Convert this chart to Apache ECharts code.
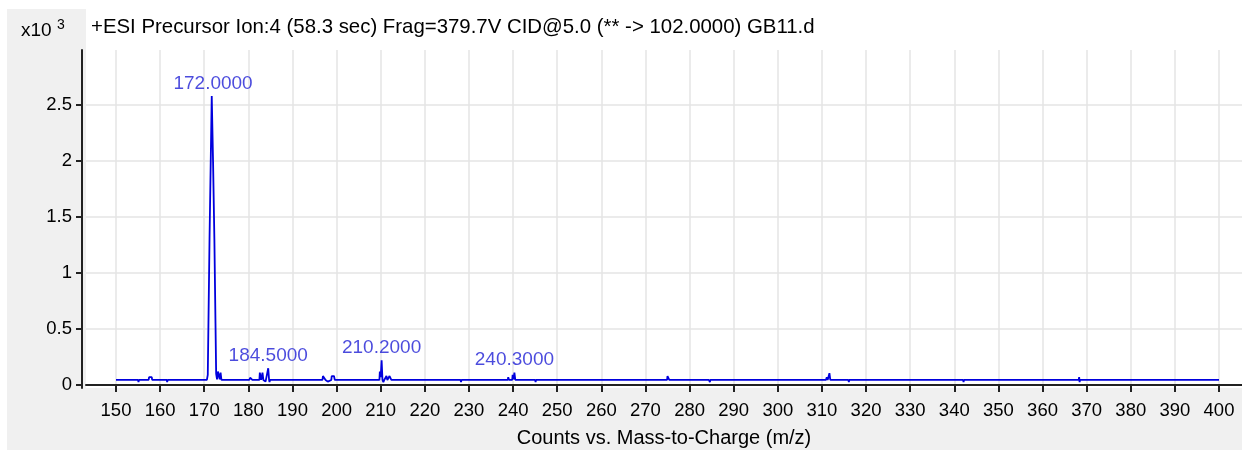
<!DOCTYPE html>
<html>
<head>
<meta charset="utf-8">
<title>GB11.d spectrum</title>
<script src="https://cdn.jsdelivr.net/npm/echarts@6/dist/echarts.min.js"></script>
<style>
  html, body { margin: 0; padding: 0; background: #fff; }
  #chart { width: 1242px; height: 450px; }
</style>
</head>
<body>
<div id="chart"></div>
<script>
// spectrum trace, m/z and counts (x10^3)
const mz = [
  150.0, 155.0, 155.1, 155.2, 157.4, 157.5, 157.8, 158.1, 158.2, 161.5, 161.6, 161.7,
  170.6, 170.8, 171.0, 171.1, 171.2, 171.7, 172.0, 172.3, 172.55, 172.7, 172.9, 173.1,
  173.3, 173.5, 173.7, 173.9, 180.2, 180.4, 180.7, 180.9, 182.5, 182.6, 182.9, 183.2,
  183.4, 183.9, 184.1, 184.5, 184.7, 184.8, 184.9, 196.8, 196.9, 197.3, 197.5, 198.0,
  198.3, 198.8, 198.9, 199.4, 199.6, 209.7, 209.8, 210.0, 210.2, 210.4, 210.6, 210.8,
  211.2, 211.3, 211.5, 211.9, 212.0, 212.3, 212.4, 224.9, 225.0, 225.2, 228.1, 228.2,
  228.3, 238.8, 238.9, 239.1, 239.8, 239.9, 240.1, 240.3, 240.5, 245.0, 245.1, 245.2,
  274.9, 275.0, 275.3, 275.4, 284.4, 284.5, 284.6, 284.7, 310.9, 311.1, 311.3, 311.7,
  311.9, 316.0, 316.1, 316.2, 342.0, 342.1, 342.2, 368.2, 368.3, 368.4, 368.5, 400.0
];
const counts = [
  0.045, 0.045, 0.025, 0.045, 0.045, 0.07, 0.065, 0.07, 0.045, 0.045, 0.025, 0.045,
  0.045, 0.09, 0.09, 0.1, 1.31, 2.58, 1.99, 1.3, 0.55, 0.1, 0.05, 0.12,
  0.12, 0.05, 0.11, 0.045, 0.045, 0.065, 0.06, 0.045, 0.045, 0.11, 0.045, 0.11,
  0.045, 0.03, 0.045, 0.15, 0.045, 0.025, 0.045, 0.045, 0.08, 0.08, 0.045, 0.03,
  0.045, 0.045, 0.08, 0.08, 0.045, 0.045, 0.12, 0.07, 0.22, 0.045, 0.025, 0.045,
  0.045, 0.08, 0.045, 0.045, 0.08, 0.08, 0.045, 0.045, 0.06, 0.045, 0.045, 0.025,
  0.045, 0.045, 0.07, 0.045, 0.045, 0.09, 0.05, 0.11, 0.045, 0.045, 0.025, 0.045,
  0.045, 0.08, 0.07, 0.045, 0.045, 0.06, 0.025, 0.045, 0.045, 0.07, 0.045, 0.105,
  0.045, 0.045, 0.025, 0.045, 0.045, 0.025, 0.045, 0.045, 0.07, 0.025, 0.045, 0.045
];

// labelled peaks
const peakMz = [172.0, 184.5, 210.2, 240.3];
const peakHeight = [2.58, 0.15, 0.22, 0.11];

const xTicks = [150, 160, 170, 180, 190, 200, 210, 220, 230, 240, 250, 260, 270,
  280, 290, 300, 310, 320, 330, 340, 350, 360, 370, 380, 390, 400];
const yTicks = [0, 0.5, 1, 1.5, 2, 2.5];

const titleText = '+ESI Precursor Ion:4 (58.3 sec) Frag=379.7V CID@5.0 (** -> 102.0000) GB11.d';
const xTitle = 'Counts vs. Mass-to-Charge (m/z)';

const font = 'Liberation Sans, Arial, sans-serif';

const chart = echarts.init(document.getElementById('chart'), null, { renderer: 'canvas' });

const option = {
  animation: false,
  backgroundColor: '#fff',
  title: {
    text: titleText,
    left: 91,
    top: 17,
    padding: 0,
    textStyle: { fontFamily: font, fontSize: 20.4, fontWeight: 'normal', color: '#000' }
  },
  graphic: [
    { type: 'rect', z: -20, silent: true, shape: { x: 7, y: 9, width: 1235, height: 441 }, style: { fill: '#f0f0f0' } },
    { type: 'rect', z: -19, silent: true, shape: { x: 86, y: 9, width: 1156, height: 379 }, style: { fill: '#fff' } },
    { type: 'text', left: 21, top: 21, style: { text: 'x10', fontFamily: font, fontSize: 19, fill: '#000' } },
    { type: 'text', left: 57, top: 18, style: { text: '3', fontFamily: font, fontSize: 14, fill: '#000' } }
  ],
  grid: {
    left: 86,
    right: 0,
    top: 50,
    bottom: 62,
    outerBoundsMode: 'none',
    containLabel: false,
    show: true,
    backgroundColor: '#fff',
    borderWidth: 0
  },
  xAxis: {
    type: 'value',
    min: 143.2,
    max: 405.21,
    offset: 5,
    name: xTitle,
    nameLocation: 'middle',
    nameGap: 35,
    nameTextStyle: { fontFamily: font, fontSize: 20, color: '#000' },
    axisLine: { lineStyle: { color: '#222', width: 2 } },
    axisTick: { show: true, length: 7, customValues: xTicks, lineStyle: { color: '#222', width: 2 } },
    axisLabel: { customValues: xTicks, fontFamily: font, fontSize: 18.5, color: '#000', margin: 8 },
    splitLine: { show: true, lineStyle: { color: '#e4e4e4', width: 1.5 } }
  },
  yAxis: {
    type: 'value',
    min: -0.0268,
    max: 2.991,
    offset: 4,
    axisLine: { show: true, lineStyle: { color: '#222', width: 2 } },
    axisTick: { show: true, length: 6, customValues: yTicks, lineStyle: { color: '#222', width: 2 } },
    axisLabel: { customValues: yTicks, fontFamily: font, fontSize: 18.5, color: '#000', margin: 10 },
    splitLine: { show: true, lineStyle: { color: '#e4e4e4', width: 1.5 } }
  },
  series: [
    {
      name: 'spectrum',
      type: 'line',
      data: mz.map((m, i) => [m, counts[i]]),
      showSymbol: false,
      lineStyle: { color: '#0000dd', width: 1.8 },
      z: 3
    },
    {
      name: 'peaks',
      type: 'scatter',
      data: peakMz.map((m, i) => [m, peakHeight[i]]),
      symbolSize: 0,
      label: {
        show: true,
        position: 'top',
        distance: 3,
        formatter: (p) => p.value[0].toFixed(4),
        fontFamily: font,
        fontSize: 19,
        color: '#1e1ed4'
      },
      z: 4
    }
  ]
};

chart.setOption(option);
</script>
</body>
</html>
